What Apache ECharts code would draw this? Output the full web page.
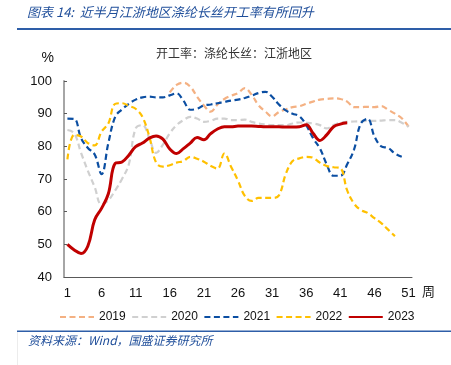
<!DOCTYPE html>
<html>
<head>
<meta charset="utf-8">
<script src="https://cdn.jsdelivr.net/npm/echarts/dist/echarts.min.js"></script>
<style>
html, body { margin: 0; padding: 0; background: #fff; }
#chart { width: 451px; height: 365px; }
</style>
</head>
<body>
<div id="chart"></div>
<script>
var weeks = ['1','2','3','4','5','6','7','8','9','10','11','12','13','14','15','16','17','18','19','20',
    '21','22','23','24','25','26','27','28','29','30','31','32','33','34','35','36','37','38','39','40',
    '41','42','43','44','45','46','47','48','49','50','51'];

var y2019 = [null, null, null, null, null, null, null, null, null, null, null, null, null, null, null,
    96.5, 98.8, 99.5, 98.3, 95.2, 92.5, 90.6, 92.8, 94.5, 95.5, 96.3, 97.8, 95.8, 92.6, 90.7,
    89.2, 90.5, 91.3, 92, 92.3, 93, 93.7, 94.3, 94.5, 94.7, 94.5, 93.7, 92, 92, 92.1, 92, 92.3, 91.2, 90, 88.6, 86];
var y2020 = [85, 84, 78, 72.5, 67.5, 62.2, 63.5, 66.5, 70, 74.5,
    85.5, 86.5, 82.5, 78, 80.5, 84, 86.5, 88, 89, 88.5,
    87.5, 87.8, 88.5, 88.5, 88, 88, 88.2, 87.5, 87, 86.7,
    86.5, 86.5, 86.5, 87, 87.3, 87.2, 87, 86.5, 85.5, 86.5,
    87.2, 87.5, 87.6, 87.7, 87.8, 87.8, 87.9, 88, 88, 87.2, 86];
var y2021 = [88.5, 88.4, 82.5, 79.5, 77.5, 71.5, 81, 89, 91.3, 93,
    94.3, 95, 95.2, 95, 95, 95.6, 96.2, 94, 91.2, 91.5,
    92.5, 92.8, 93.2, 93.6, 94, 94.3, 94.8, 95.5, 96.3, 96.7,
    95.2, 92.8, 91, 90, 89.2, 86.5, 82.5, 79.4, 74.5, 71,
    71, 74.5, 79, 87, 88.4, 83, 80, 79.5, 77.8, 76.8];
var y2022 = [76, 83.5, 83, 81, 80.3, 84.5, 87, 93, 93.2, 92.4,
    91.5, 89, 83, 75, 73.8, 74.2, 75, 75.5, 76.8, 76.2,
    75.3, 74, 73.2, 77.8, 73.7, 69.5, 64.8, 63.3, 64.2, 64.2,
    64.2, 65, 71.5, 75.5, 76.3, 76.8, 76.5, 75, 74, 73.6,
    73.3, 66.5, 62.5, 60.5, 59.6, 58, 56.5, 54.5, 52.5];
var y2023 = [50, 48.3, 47.2, 49.5, 57.5, 61, 65.5, 74.8, 75.2, 77.3,
    79.9, 81, 82.5, 83.2, 82.2, 79.2, 77.8, 79.3, 81, 82.7,
    82, 83.9, 85.3, 86, 86, 86.2, 86.2, 86.2, 86.1, 86,
    86, 86, 85.9, 85.9, 86, 86.6, 84, 81.8, 83.5, 86,
    86.8, 87.2];

var blue = '#1f4e9a';

// 每条线的样式
var makeLine = function (name, data, color, dashed, width) {
    return {
        name: name,
        type: 'line',
        data: data,
        smooth: 0.4,
        symbol: 'none',
        lineStyle: { color: color, width: width, type: dashed ? [6, 3.5] : 'solid' },
        itemStyle: { color: color }
    };
};

var chart = echarts.init(document.getElementById('chart'));
chart.setOption({
    animation: false,
    backgroundColor: '#fff',
    textStyle: { fontFamily: 'Liberation Sans, Arial, sans-serif' },
    grid: { left: 64, right: 39, top: 81, bottom: 88 },
    legend: {
        left: 54, top: 306,
        itemWidth: 34, itemHeight: 12, itemGap: 5.5,
        itemStyle: { opacity: 0 },
        textStyle: { fontSize: 12, color: '#111' },
        data: ['2019', '2020', '2021', '2022', '2023']
    },
    xAxis: {
        type: 'category',
        data: weeks,
        boundaryGap: true,
        name: '周',
        nameGap: 10,
        nameTextStyle: { fontSize: 13, color: '#222', verticalAlign: 'top', padding: [8, 0, 0, 0],
            fontFamily: 'Noto Sans CJK SC' },
        axisLine: { lineStyle: { color: '#595959', width: 1 } },
        axisTick: { show: false },
        axisLabel: { interval: 4, fontSize: 13, color: '#111', margin: 10 }
    },
    yAxis: {
        type: 'value',
        min: 40, max: 100, interval: 10,
        name: '%',
        nameGap: 23,
        nameTextStyle: { fontSize: 14, color: '#111', align: 'right', verticalAlign: 'middle', padding: [0, 10, 0, 0] },
        axisLine: { show: true, lineStyle: { color: '#a6a6a6', width: 2 } },
        axisTick: { show: true, inside: true, length: 3, lineStyle: { color: '#595959' } },
        splitLine: { show: false },
        axisLabel: { fontSize: 13, color: '#111', margin: 12 }
    },
    series: [
        makeLine('2019', y2019, '#f4b183', true, 2.2),
        makeLine('2020', y2020, '#d0d0d0', true, 2.2),
        makeLine('2021', y2021, '#0b4ea2', true, 2.2),
        makeLine('2022', y2022, '#ffc000', true, 2.2),
        makeLine('2023', y2023, '#c00000', false, 3)
    ],
    graphic: [
        { type: 'text', left: 27, top: 6,
          style: { text: '图表 14:  近半月江浙地区涤纶长丝开工率有所回升', fill: blue,
              font: 'italic 13px "Noto Sans CJK SC"' } },
        { type: 'rect', shape: { x: 17, y: 28, width: 434, height: 2 }, style: { fill: '#2e5ea8' } },
        { type: 'text', x: 234, y: 53,
          style: { text: '开工率：涤纶长丝：江浙地区', fill: '#333', align: 'center', verticalAlign: 'middle',
              font: '12px "Noto Sans CJK SC"' } },
        { type: 'rect', shape: { x: 17, y: 330.5, width: 434, height: 1.5 }, style: { fill: '#2e5ea8' } },
        { type: 'rect', shape: { x: 17, y: 332, width: 1, height: 33 }, style: { fill: '#ececec' } },
        { type: 'text', left: 28, top: 334,
          style: { text: '资料来源：Wind，国盛证券研究所', fill: blue,
              font: 'italic 12px "Noto Sans CJK SC"' } }
    ]
});
</script>
</body>
</html>
